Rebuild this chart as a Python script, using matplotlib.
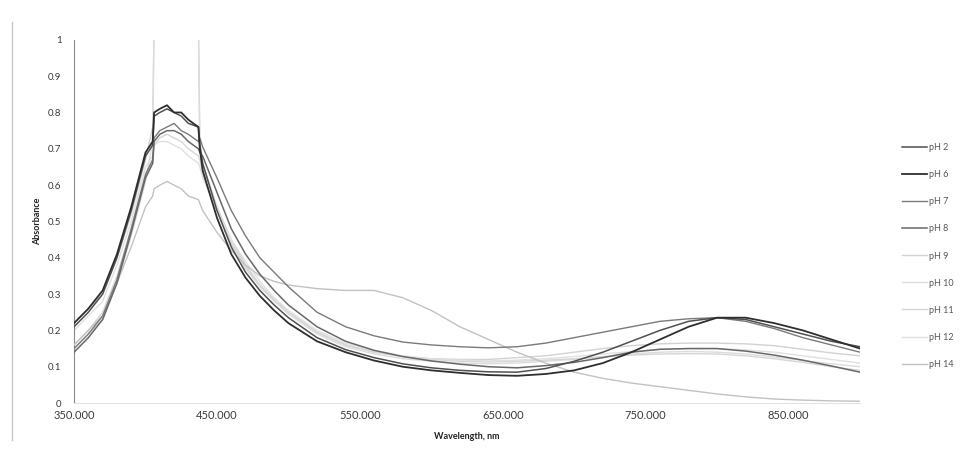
import matplotlib
matplotlib.use("Agg")
import matplotlib.pyplot as plt
from matplotlib.lines import Line2D

plt.rcParams['font.family'] = ['Lato', 'DejaVu Sans']

# wavelength grid (nm)
wavelength = [350, 360, 370, 380, 390, 400, 405, 406, 410, 415, 420, 425, 430, 437, 438,
              440, 450, 460, 470, 480, 490, 500, 520, 540, 560, 580, 600, 620, 640, 660,
              680, 700, 720, 740, 760, 780, 800, 820, 840, 860, 880, 900]

ph2 = [0.21, 0.25, 0.30, 0.40, 0.53, 0.68, 0.71, 0.79, 0.80, 0.81, 0.80, 0.79, 0.77, 0.76, 0.71,
       0.66, 0.53, 0.43, 0.36, 0.31, 0.27, 0.235, 0.18, 0.147, 0.125, 0.108, 0.097, 0.09, 0.086, 0.085,
       0.095, 0.115, 0.14, 0.17, 0.20, 0.225, 0.235, 0.23, 0.21, 0.19, 0.17, 0.155]
ph6 = [0.22, 0.26, 0.31, 0.41, 0.54, 0.69, 0.72, 0.80, 0.81, 0.82, 0.80, 0.80, 0.78, 0.76, 0.70,
       0.64, 0.51, 0.41, 0.345, 0.295, 0.255, 0.22, 0.17, 0.14, 0.117, 0.10, 0.09, 0.083, 0.077, 0.075,
       0.08, 0.09, 0.11, 0.14, 0.175, 0.21, 0.235, 0.235, 0.22, 0.20, 0.175, 0.15]
ph7 = [0.15, 0.19, 0.24, 0.34, 0.48, 0.63, 0.67, 0.73, 0.75, 0.76, 0.77, 0.75, 0.74, 0.72, 0.73,
       0.705, 0.62, 0.53, 0.46, 0.40, 0.36, 0.32, 0.25, 0.21, 0.185, 0.168, 0.16, 0.155, 0.152, 0.155,
       0.165, 0.18, 0.195, 0.21, 0.225, 0.232, 0.235, 0.225, 0.205, 0.18, 0.16, 0.14]
ph8 = [0.14, 0.18, 0.23, 0.33, 0.47, 0.62, 0.66, 0.72, 0.74, 0.75, 0.75, 0.74, 0.72, 0.70, 0.69,
       0.68, 0.58, 0.48, 0.41, 0.355, 0.31, 0.27, 0.21, 0.17, 0.145, 0.128, 0.116, 0.107, 0.10, 0.097,
       0.103, 0.112, 0.125, 0.14, 0.148, 0.15, 0.15, 0.143, 0.132, 0.118, 0.102, 0.085]
ph9 = [0.22, 0.26, 0.30, 0.40, 0.52, 0.67, 0.76, 1.05, 1.05, 1.05, 1.05, 1.05, 1.05, 1.05, 0.72,
       0.66, 0.54, 0.45, 0.38, 0.325, 0.285, 0.25, 0.195, 0.16, 0.14, 0.128, 0.122, 0.12, 0.12, 0.125,
       0.13, 0.14, 0.15, 0.158, 0.163, 0.165, 0.165, 0.163, 0.158, 0.148, 0.138, 0.13]
ph10 = [0.15, 0.19, 0.23, 0.33, 0.46, 0.61, 0.72, 1.05, 1.05, 1.05, 1.05, 1.05, 1.05, 1.05, 0.70,
        0.65, 0.54, 0.44, 0.37, 0.32, 0.28, 0.245, 0.19, 0.155, 0.135, 0.122, 0.115, 0.11, 0.108, 0.11,
        0.115, 0.12, 0.128, 0.135, 0.14, 0.142, 0.14, 0.135, 0.127, 0.117, 0.108, 0.10]
ph11 = [0.16, 0.20, 0.25, 0.35, 0.48, 0.62, 0.66, 0.71, 0.73, 0.74, 0.73, 0.72, 0.70, 0.68, 0.67,
        0.63, 0.53, 0.44, 0.375, 0.325, 0.285, 0.25, 0.195, 0.16, 0.14, 0.128, 0.12, 0.115, 0.113, 0.115,
        0.118, 0.122, 0.127, 0.132, 0.135, 0.136, 0.135, 0.13, 0.122, 0.112, 0.10, 0.09]
ph12 = [0.20, 0.24, 0.28, 0.38, 0.50, 0.65, 0.68, 0.71, 0.72, 0.72, 0.71, 0.70, 0.68, 0.66, 0.65,
        0.62, 0.53, 0.45, 0.39, 0.335, 0.29, 0.255, 0.20, 0.165, 0.145, 0.13, 0.122, 0.118, 0.116, 0.118,
        0.122, 0.128, 0.135, 0.142, 0.148, 0.15, 0.15, 0.146, 0.14, 0.13, 0.12, 0.11]
ph14 = [0.16, 0.20, 0.24, 0.33, 0.43, 0.54, 0.57, 0.59, 0.60, 0.61, 0.60, 0.59, 0.57, 0.56, 0.55,
        0.53, 0.47, 0.42, 0.38, 0.35, 0.335, 0.325, 0.315, 0.31, 0.31, 0.29, 0.255, 0.21, 0.175, 0.14,
        0.11, 0.085, 0.068, 0.055, 0.045, 0.035, 0.025, 0.017, 0.011, 0.008, 0.006, 0.005]

labels = ['pH 2', 'pH 6', 'pH 7', 'pH 8', 'pH 9', 'pH 10', 'pH 11', 'pH 12', 'pH 14']
series = [ph2, ph6, ph7, ph8, ph9, ph10, ph11, ph12, ph14]
colors = ['#505050', '#2e2e2e', '#7a7a7a', '#686868', '#d2d2d2', '#dcdcdc', '#d6d6d6', '#e0e0e0', '#c2c2c2']
widths = [1.1, 1.3, 1.0, 1.1, 1.0, 1.0, 1.0, 1.0, 1.0]
zorders = [5, 6, 4, 4, 2, 2, 2, 2, 3]

fig = plt.figure(figsize=(9.62, 4.58), dpi=100)
ax = fig.add_axes([0.077, 0.12, 0.817, 0.793])

for ys, lab, c, w, z in zip(series, labels, colors, widths, zorders):
    ax.plot(wavelength, ys, color=c, lw=w, label=lab, zorder=z)

ax.set_xlim(350, 900)
ax.set_ylim(0, 1)
ax.set_xticks([350, 450, 550, 650, 750, 850])
ax.set_xticklabels(['350.000', '450.000', '550.000', '650.000', '750.000', '850.000'])
ax.set_yticks([0, 0.1, 0.2, 0.3, 0.4, 0.5, 0.6, 0.7, 0.8, 0.9, 1.0])
ax.set_yticklabels(['0', '0.1', '0.2', '0.3', '0.4', '0.5', '0.6', '0.7', '0.8', '0.9', '1'])
ax.tick_params(axis='both', length=0, colors='#3a3a3a')
ax.tick_params(axis='y', labelsize=7, pad=9)
ax.tick_params(axis='x', labelsize=8, pad=5)

for s in ['top', 'right']:
    ax.spines[s].set_visible(False)
ax.spines['left'].set_color('#8a8a8a')
ax.spines['left'].set_linewidth(0.8)
ax.spines['bottom'].set_color('#e2e2e2')
ax.spines['bottom'].set_linewidth(0.8)

ax.set_ylabel('Absorbance', fontsize=6.5, fontweight='bold', color='#222222', labelpad=4)
ax.set_xlabel('Wavelength, nm', fontsize=6.5, fontweight='bold', color='#222222', labelpad=8)

leg = ax.legend(loc='center left', bbox_to_anchor=(0.934, 0.441), bbox_transform=fig.transFigure,
                frameon=False, fontsize=6.5, handlelength=2.8, handletextpad=0.15,
                labelspacing=2.0, borderaxespad=0)
for t in leg.get_texts():
    t.set_color('#555555')

# faint border of the scanned page on the left
fig.add_artist(Line2D([0.0125, 0.0125], [1 - 22 / 458, 1 - 440 / 458],
                      transform=fig.transFigure, color='#c8c8c8', lw=1.0))

fig.savefig('out.png', dpi=100)
